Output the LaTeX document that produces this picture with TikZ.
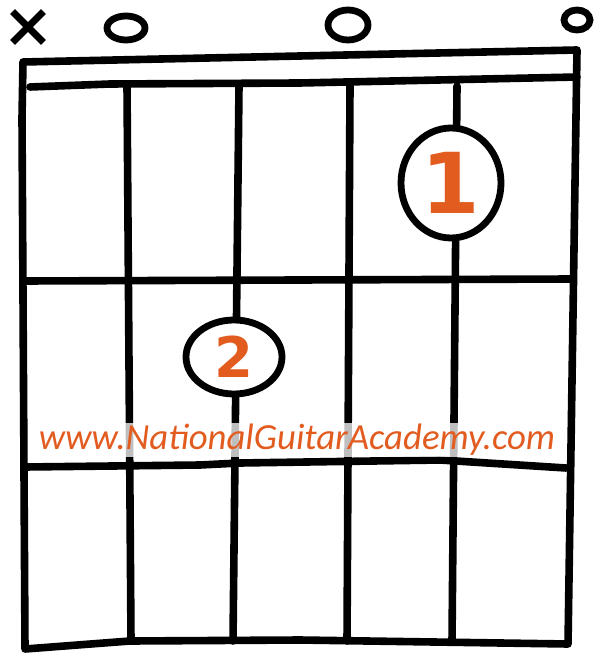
\documentclass[tikz,border=0pt]{standalone}
\usepackage{fontspec}
\usepackage{tikz}
\usetikzlibrary{shapes.geometric,shapes.misc}
\newfontfamily\digitfont{DejaVu Sans}
\newfontfamily\wmfont{Carlito}
\definecolor{ngaorange}{RGB}{226,92,32}

\begin{document}
\begin{tikzpicture}[
  x=0.5pt, y=-0.5pt,
  ink/.style={line width=3.8pt, line cap=round, line join=round},
  mute/.style={draw, cross out, line width=3.4pt, minimum size=12pt, inner sep=0pt},
  openstr/.style={draw, ellipse, line width=3.4pt, inner sep=0pt},
  finger/.style={draw, ellipse, fill=white, line width=3.4pt, inner sep=0pt, text=ngaorange},
  watermark/.style={fill=white, fill opacity=0.75, text opacity=1, text=ngaorange, inner xsep=2pt, inner ysep=1pt, text height=12pt, text depth=3pt}
]
\useasboundingbox (0,0) rectangle (594,656);

\draw[ink] (22,118) -- (23,62) -- (577,50) -- (568,644) -- (300,640) -- (130,641) -- (25,649) -- cycle;
\draw[ink] (30,87) -- (110,84) -- (300,83) -- (577,77);
\draw[ink] (25,281) -- (573,279);
\draw[ink] (25,467) -- (200,465) -- (240,463) -- (440,460) -- (566,468);
\foreach \xt/\xb in {127/131, 239/233, 350/347, 457/452}
  \draw[ink] (\xt,86) -- (\xb,641);

\node[mute] (m6) at (28,27) {};
\node[openstr, minimum width=19pt, minimum height=12pt] (o5) at (126,28) {};
\node[openstr, minimum width=20pt, minimum height=15pt] (o3) at (348,25) {};
\node[openstr, minimum width=13pt, minimum height=10pt] (o1) at (577,20) {};

\node[finger, minimum width=50pt, minimum height=55pt, font=\digitfont\bfseries\fontsize{42}{42}\selectfont] (f1) at (451,183) {1};
\node[finger, minimum width=48pt, minimum height=37pt, font=\digitfont\bfseries\fontsize{28}{28}\selectfont] (f2) at (234,357) {2};

\node[watermark, font=\wmfont\itshape\fontsize{18.4}{22}\selectfont] (url) at (297,440) {www.NationalGuitarAcademy.com};
\end{tikzpicture}
\end{document}
